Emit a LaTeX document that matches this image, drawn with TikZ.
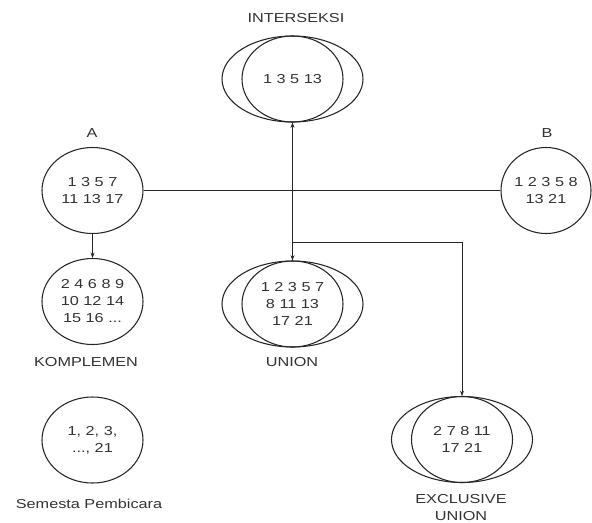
\documentclass[tikz,border=0pt]{standalone}
\usepackage{fontspec}
\setmainfont{Liberation Sans}[FakeStretch=1.25]
\usetikzlibrary{shapes.geometric,arrows.meta}
\begin{document}
\begin{tikzpicture}[x=0.75pt,y=-0.75pt,
  ink/.style={draw=black!85,line width=0.8pt},
  setel/.style={ink,ellipse,inner sep=0pt,minimum width=75.75pt,minimum height=64.5pt,align=center,
    font=\fontsize{9.75}{12.75}\selectfont,text=black!80},
  wide/.style={ink,ellipse,inner sep=0pt,minimum width=105.75pt,minimum height=64.5pt},
  lbl/.style={font=\fontsize{9.75}{12.75}\selectfont,text=black!80,align=center,inner sep=0pt},
  conn/.style={draw=black!85,line width=0.75pt},
  tip/.style={-{Stealth[length=4pt,width=3pt]}}
]
\useasboundingbox (0,0) rectangle (592,522);
% set A and B
\node[setel] (A) at (92.5,190.5) {1 3 5 7\\11 13 17};
\node[setel,minimum width=67.5pt] (B) at (546,190.5) {1 2 3 5 8\\13 21};
\node[lbl] (Alab) at (92,133) {A};
\node[lbl] (Blab) at (547,133) {B};
% complement and universe
\node[setel] (K) at (92.5,301.5) {2 4 6 8 9\\10 12 14\\15 16 ...};
\node[lbl] (Klab) at (86,362) {KOMPLEMEN};
\node[setel] (S) at (92.5,440) {1, 2, 3,\\..., 21};
\node[lbl] (Slab) at (89,504) {Semesta Pembicara};
% intersection
\node[wide] (Iout) at (292.5,79) {};
\node[setel] (I) at (292.5,79) {1 3 5 13};
\node[lbl] (Ilab) at (296,18) {INTERSEKSI};
% union
\node[wide] (Uout) at (292.5,304) {};
\node[setel] (U) at (292.5,304) {1 2 3 5 7\\8 11 13\\17 21};
\node[lbl] (Ulab) at (292,362) {UNION};
% exclusive union
\node[wide] (Xout) at (462,439.5) {};
\node[setel] (X) at (462,439.5) {2 7 8 11\\17 21};
\node[lbl] (Xlab) at (461,507.5) {EXCLUSIVE\\UNION};
% connectors
\draw[conn] (A.east) -- (B.west);
\draw[conn,tip] (A.south) -- (K.north);
\draw[conn,{Stealth[length=4pt,width=3pt]}-{Stealth[length=4pt,width=3pt]}] (Iout.south) -- (Uout.north);
\coordinate (br) at (292.5,242);
\draw[conn,tip] (br) -| (Xout.north);
\end{tikzpicture}
\end{document}
